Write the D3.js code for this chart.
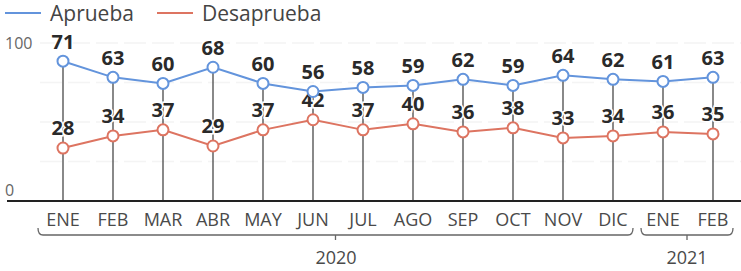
<!DOCTYPE html>
<html>
<head>
<meta charset="utf-8">
<script src="https://cdn.jsdelivr.net/npm/d3@7"></script>
<style>
  body { margin: 0; background: #fff; }
  svg { display: block; }
  text { font-family: "Open Sans", Lato, sans-serif; }
</style>
</head>
<body>
<svg id="chart" width="741" height="271"></svg>
<script>
var months = ["ENE","FEB","MAR","ABR","MAY","JUN","JUL","AGO","SEP","OCT","NOV","DIC","ENE","FEB"];
var aprueba    = [71,63,60,68,60,56,58,59,62,59,64,62,61,63];
var desaprueba = [28,34,37,29,37,42,37,40,36,38,33,34,36,35];
var yearLabels = ["2020","2021"];
var yearSpans  = [[0,11],[12,13]];
var yTicks = [0, 25, 50, 75, 100];

var svg = d3.select("#chart");
var blue = "#6394dc", red = "#dd7461";

var x = d3.scalePoint()
    .domain(d3.range(months.length))
    .range([63, 713]);

// points scale
var y = d3.scaleLinear().domain([0,100]).range([204.6, 2.6]);
// scale used for the grid / the 0-100 labels
var yGrid = d3.scaleLinear().domain([0,100]).range([201, 43]);

// faint gridlines
svg.append("g").selectAll("line")
    .data(yTicks.slice(1))
  .enter().append("line")
    .attr("x1", 40).attr("x2", 741)
    .attr("y1", function(d){ return yGrid(d); })
    .attr("y2", function(d){ return yGrid(d); })
    .attr("stroke", "#f4f4f4")
    .attr("stroke-width", 1.5)
    .attr("stroke-dasharray", "22,6");

// 0 / 100 labels
svg.append("g").selectAll("text")
    .data([0,100])
  .enter().append("text")
    .attr("x", 5)
    .attr("y", function(d){ return d == 100 ? yGrid(d) + 6 : yGrid(d) - 5; })
    .attr("fill", "#666")
    .style("font-size", "16px")
    .text(function(d){ return d; });

// vertical stems from baseline to top point
svg.append("g").selectAll("line")
    .data(aprueba)
  .enter().append("line")
    .attr("x1", function(d,i){ return x(i); })
    .attr("x2", function(d,i){ return x(i); })
    .attr("y1", yGrid(0))
    .attr("y2", function(d){ return y(d); })
    .attr("stroke", "#3a3a3a")
    .attr("stroke-width", 1.2);

// baseline
svg.append("line")
    .attr("x1", 7).attr("x2", 741)
    .attr("y1", yGrid(0)).attr("y2", yGrid(0))
    .attr("stroke", "#222")
    .attr("stroke-width", 2);

function drawSeries(vals, color, off) {
  var line = d3.line()
      .x(function(d,i){ return x(i); })
      .y(function(d){ return y(d); });

  svg.append("path")
      .datum(vals)
      .attr("d", line)
      .attr("fill", "none")
      .attr("stroke", color)
      .attr("stroke-width", 2);

  svg.append("g").selectAll("text")
      .data(vals)
    .enter().append("text")
      .attr("x", function(d,i){ return x(i); })
      .attr("y", function(d){ return y(d) - off; })
      .attr("text-anchor", "middle")
      .attr("fill", "#2a2a2a")
      .attr("stroke", "#fff")
      .attr("stroke-width", 3)
      .attr("paint-order", "stroke")
      .style("font-size", "20px")
      .style("font-weight", "bold")
      .text(function(d){ return d; });

  svg.append("g").selectAll("circle")
      .data(vals)
    .enter().append("circle")
      .attr("cx", function(d,i){ return x(i); })
      .attr("cy", function(d){ return y(d); })
      .attr("r", 5.5)
      .attr("fill", "#fff")
      .attr("stroke", color)
      .attr("stroke-width", 2);
}

drawSeries(desaprueba, red, 13);
drawSeries(aprueba, blue, 12);

// month labels
svg.append("g").selectAll("text")
    .data(months)
  .enter().append("text")
    .attr("x", function(d,i){ return x(i); })
    .attr("y", 226)
    .attr("text-anchor", "middle")
    .attr("fill", "#4a4a4a")
    .style("font-size", "18px")
    .text(function(d){ return d; });

// year brackets
var by = 235;
yearSpans.forEach(function(s, k) {
  var x0 = x(s[0]) - 25, x1 = x(s[1]) + 20, xm = (x0 + x1) / 2;
  if (k == 1) { x0 = x(s[0]) - 22; x1 = x(s[1]) + 20; xm = (x0 + x1) / 2; }
  var p = d3.path();
  p.moveTo(x0, by - 7);
  p.quadraticCurveTo(x0, by, x0 + 5, by);
  p.lineTo(x1 - 5, by);
  p.quadraticCurveTo(x1, by, x1, by - 7);
  p.moveTo(xm, by);
  p.lineTo(xm, by + 5);
  svg.append("path")
      .attr("d", p.toString())
      .attr("fill", "none")
      .attr("stroke", "#666")
      .attr("stroke-width", 1.3);
  svg.append("text")
      .attr("x", k == 0 ? 336 : xm)
      .attr("y", 264)
      .attr("text-anchor", "middle")
      .attr("fill", "#4a4a4a")
      .style("font-size", "18px")
      .text(yearLabels[k]);
});

// legend
var legend = [["Aprueba", blue, 5], ["Desaprueba", red, 157]];
legend.forEach(function(l) {
  svg.append("line")
      .attr("x1", l[2]).attr("x2", l[2] + 36)
      .attr("y1", 13).attr("y2", 13)
      .attr("stroke", l[1])
      .attr("stroke-width", 2);
  svg.append("text")
      .attr("x", l[2] + 45)
      .attr("y", 21)
      .attr("fill", "#444")
      .style("font-size", "21px")
      .text(l[0]);
});
</script>
</body>
</html>
